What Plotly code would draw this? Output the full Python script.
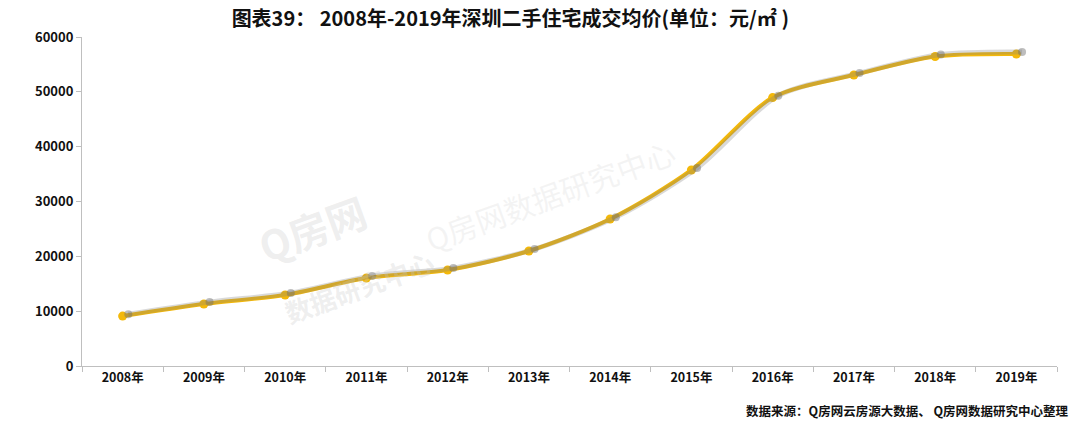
import plotly.graph_objects as go

years = ["2008年", "2009年", "2010年", "2011年", "2012年", "2013年",
         "2014年", "2015年", "2016年", "2017年", "2018年", "2019年"]
prices = [9100, 11300, 12950, 16050, 17500, 20970,
          26800, 35750, 48950, 53070, 56450, 56900]
y_ticks = [0, 10000, 20000, 30000, 40000, 50000, 60000]
y_tick_labels = ["0", "10000", "20000", "30000", "40000", "50000", "60000"]

title_text = "图表39： 2008年-2019年深圳二手住宅成交均价(单位：元/㎡ )"
source_text = "数据来源：Q房网云房源大数据、 Q房网数据研究中心整理"

FONT = "Noto Sans CJK SC, Noto Sans, sans-serif"
GOLD = "#F3B80A"

fig = go.Figure()

# soft gray shadow drawn on slightly shifted overlay axes
fig.add_trace(go.Scatter(
    x=years, y=prices, mode="lines+markers",
    line=dict(color="rgba(130,130,130,0.3)", width=5, shape="spline", smoothing=0.8),
    marker=dict(color="rgba(110,110,110,0.45)", size=8),
    xaxis="x2", yaxis="y2", hoverinfo="skip", showlegend=False,
))

fig.add_trace(go.Scatter(
    x=years, y=prices, mode="lines+markers",
    line=dict(color=GOLD, width=4, shape="spline", smoothing=0.8),
    marker=dict(color=GOLD, size=9),
    showlegend=False,
))

fig.update_layout(
    width=1080, height=427,
    margin=dict(l=82, r=23, t=37, b=61),
    paper_bgcolor="white", plot_bgcolor="white",
    font=dict(family=FONT, color="#111111"),
    title=dict(text=f"<b>{title_text}</b>", x=0.4725, xanchor="center",
               yref="container", y=0.955, yanchor="middle",
               font=dict(size=20, color="#111111")),
    xaxis=dict(
        type="category", range=[-0.5, 11.5],
        showline=True, linecolor="#bfbfbf", linewidth=1,
        ticks="outside", tickson="boundaries", ticklen=5, tickcolor="#bfbfbf",
        showgrid=False, tickfont=dict(size=12.5, family=FONT),
        tickprefix="<b>", ticksuffix="</b>",
    ),
    yaxis=dict(
        range=[0, 60000], tickvals=y_ticks,
        ticktext=[f"<b>{t}</b>" for t in y_tick_labels],
        showline=True, linecolor="#bfbfbf", linewidth=1,
        ticks="outside", ticklen=5, tickcolor="#bfbfbf",
        showgrid=False, zeroline=False, tickfont=dict(size=13, family=FONT),
    ),
    xaxis2=dict(type="category", range=[-0.57, 11.43], overlaying="x",
                visible=False, showgrid=False),
    yaxis2=dict(range=[-350, 59650], overlaying="y", visible=False,
                showgrid=False, zeroline=False),
)

# faint watermark
fig.add_annotation(text="<b>Q房网</b>", x=0.17, y=0.27, xref="paper", yref="paper",
                   showarrow=False, textangle=-20,
                   font=dict(size=40, color="rgba(200,200,200,0.3)", family=FONT))
fig.add_annotation(text="<b>数据研究中心</b>", x=0.2, y=0.1, xref="paper", yref="paper",
                   showarrow=False, textangle=-20,
                   font=dict(size=26, color="rgba(200,200,200,0.3)", family=FONT))
fig.add_annotation(text="Q房网数据研究中心", x=0.48, y=0.52, xref="paper", yref="paper",
                   showarrow=False, textangle=-20,
                   font=dict(size=30, color="rgba(210,210,210,0.25)", family=FONT))

fig.add_annotation(text=f"<b>{source_text}</b>", x=1.014, y=-0.135,
                   xref="paper", yref="paper", showarrow=False,
                   xanchor="right", yanchor="middle",
                   font=dict(size=12.5, color="#111111", family=FONT))

fig.write_html("out.html")
